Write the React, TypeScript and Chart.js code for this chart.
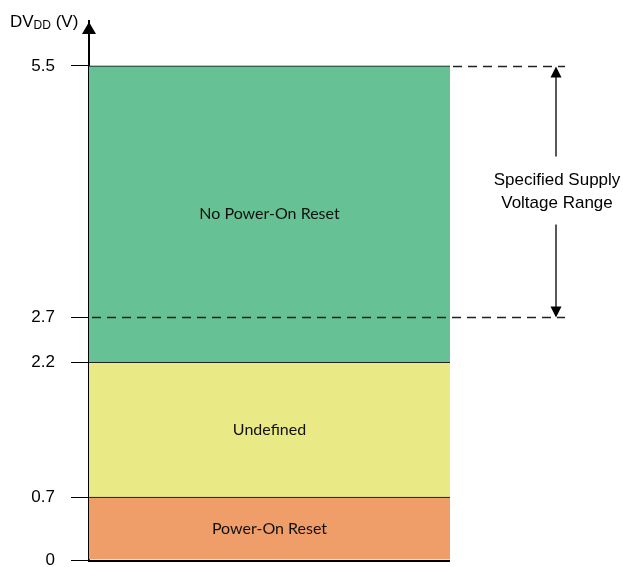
import React, { useEffect, useRef } from "react";
import { Chart, registerables } from "chart.js";

Chart.register(...registerables);

// Data
const categories = [""];
const regionNames = ["Power-On Reset", "Undefined", "No Power-On Reset"];
const regionRanges: [number, number][] = [
  [0, 0.7],
  [0.7, 2.2],
  [2.2, 5.5],
];
const regionColors = ["#EF9E6A", "#E9EA85", "#66C294"];
const regionBorderColors = ["#000000", "#222222", "#000000"];
const yTickValues = [0, 0.7, 2.2, 2.7, 5.5];
const supplyRange = [2.7, 5.5];
const supplyLabel = ["Specified Supply", "Voltage Range"];
const yMax = 6;

const annotations = {
  id: "annotations",
  afterDatasetsDraw(chart: any) {
    const { ctx, chartArea } = chart;
    const y = chart.scales.y;
    const left = chartArea.left;
    const right = chartArea.right;
    const extEnd = 565;
    const arrowX = 556;
    ctx.save();

    // region labels
    ctx.fillStyle = "#111";
    ctx.font = "16px Lato";
    ctx.textAlign = "center";
    ctx.textBaseline = "middle";
    regionRanges.forEach((r, i) => {
      const cy = (y.getPixelForValue(r[0]) + y.getPixelForValue(r[1])) / 2;
      ctx.fillText(regionNames[i], (left + right) / 2, cy);
    });

    // dashed lines
    ctx.strokeStyle = "#222";
    ctx.lineWidth = 1.3;
    ctx.setLineDash([9, 6]);
    const yTop = Math.round(y.getPixelForValue(supplyRange[1])) + 0.5;
    const yBot = Math.round(y.getPixelForValue(supplyRange[0])) + 0.5;
    ctx.beginPath();
    ctx.moveTo(right + 3, yTop);
    ctx.lineTo(extEnd, yTop);
    ctx.moveTo(left + 3, yBot);
    ctx.lineTo(extEnd, yBot);
    ctx.stroke();
    ctx.setLineDash([]);

    // double arrow
    ctx.lineWidth = 1.5;
    ctx.beginPath();
    ctx.moveTo(arrowX, yTop + 10);
    ctx.lineTo(arrowX, yTop + 90);
    ctx.moveTo(arrowX, yTop + 158);
    ctx.lineTo(arrowX, yBot - 10);
    ctx.stroke();
    ctx.fillStyle = "#000";
    ctx.beginPath();
    ctx.moveTo(arrowX, yTop);
    ctx.lineTo(arrowX - 5.5, yTop + 11);
    ctx.lineTo(arrowX + 5.5, yTop + 11);
    ctx.closePath();
    ctx.fill();
    ctx.beginPath();
    ctx.moveTo(arrowX, yBot);
    ctx.lineTo(arrowX - 5.5, yBot - 11);
    ctx.lineTo(arrowX + 5.5, yBot - 11);
    ctx.closePath();
    ctx.fill();

    ctx.fillStyle = "#000";
    ctx.font = "17px 'Liberation Sans'";
    ctx.textAlign = "center";
    ctx.textBaseline = "alphabetic";
    ctx.fillText(supplyLabel[0], arrowX + 1, yTop + 118);
    ctx.fillText(supplyLabel[1], arrowX + 1, yTop + 141);

    // bottom axis line
    const y0 = y.getPixelForValue(0);
    ctx.strokeStyle = "#000";
    ctx.lineWidth = 2;
    ctx.beginPath();
    ctx.moveTo(left - 1, y0 + 1);
    ctx.lineTo(right, y0 + 1);
    ctx.stroke();

    // vertical axis arrow
    const ax = left;
    const tip = y.getPixelForValue(yMax) + 1;
    ctx.fillStyle = "#000";
    ctx.beginPath();
    ctx.moveTo(ax, tip);
    ctx.lineTo(ax - 7, tip + 12);
    ctx.lineTo(ax + 7, tip + 12);
    ctx.closePath();
    ctx.fill();

    // axis title DV_DD (V)
    ctx.textAlign = "left";
    ctx.textBaseline = "alphabetic";
    let tx = 10;
    const by = 27;
    ctx.font = "17px 'Liberation Sans'";
    ctx.fillText("DV", tx, by);
    tx += ctx.measureText("DV").width;
    ctx.font = "12px 'Liberation Sans'";
    ctx.fillText("DD", tx, by + 2);
    tx += ctx.measureText("DD").width;
    ctx.font = "17px 'Liberation Sans'";
    ctx.fillText(" (V)", tx, by);

    ctx.restore();
  },
};

export default function App() {
  const ref = useRef<HTMLCanvasElement | null>(null);
  useEffect(() => {
    if (!ref.current) return;
    const chart = new Chart(ref.current, {
      type: "bar",
      data: {
        labels: categories,
        datasets: regionRanges.map((r, i) => ({
          label: regionNames[i],
          data: [r as any],
          backgroundColor: regionColors[i],
          borderColor: regionBorderColors[i],
          borderWidth: { top: 1, right: 0, bottom: 0, left: 0 },
          borderSkipped: false,
          barPercentage: 1,
          categoryPercentage: 1,
          grouped: false,
        })),
      },
      options: {
        responsive: false,
        animation: false,
        layout: { padding: { left: 0, right: 173, top: 21, bottom: 7 } },
        plugins: { legend: { display: false }, tooltip: { enabled: false } },
        scales: {
          x: { display: false },
          y: {
            min: 0,
            max: yMax,
            afterBuildTicks: (s: any) => {
              s.ticks = yTickValues.map((v) => ({ value: v }));
            },
            afterFit: (s: any) => {
              s.width = 89;
              s.paddingTop = 0;
              s.paddingBottom = 0;
            },
            ticks: {
              autoSkip: false,
              padding: 16,
              color: "#000",
              font: { family: "'Liberation Sans'", size: 17, lineHeight: 0.8 },
              callback: (v: any) => String(v),
            },
            grid: {
              drawOnChartArea: false,
              drawTicks: true,
              tickLength: 18,
              color: "#000",
              lineWidth: 1,
            },
            border: { display: true, color: "#000", width: 2 },
          },
        },
      },
      plugins: [annotations],
    });
    return () => chart.destroy();
  }, []);
  return (
    <div style={{ position: "absolute", left: 0, top: 0, width: 623, height: 567, background: "#fff" }}>
      <canvas ref={ref} width={623} height={567} />
    </div>
  );
}
